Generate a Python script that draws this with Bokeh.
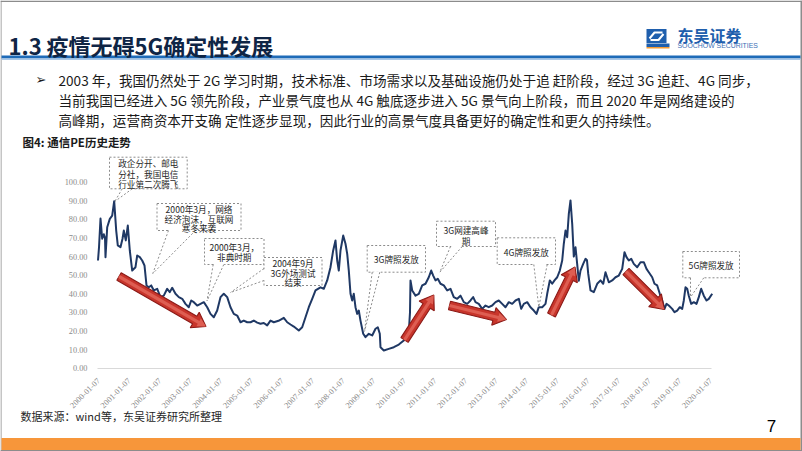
from math import pi, hypot
from bokeh.plotting import figure
from bokeh.models import Range1d, LinearAxis, FixedTicker, NumeralTickFormatter
from bokeh.core.properties import value
from bokeh.embed import file_html
from bokeh.resources import INLINE

# ---------------- data ----------------
pe_year = [
    2000.000, 2000.033, 2000.082, 2000.137, 2000.190, 2000.229, 2000.245, 2000.301, 2000.386, 2000.464,
    2000.529, 2000.595, 2000.647, 2000.735, 2000.801, 2000.843, 2000.908, 2000.974, 2001.039, 2001.118,
    2001.225, 2001.281, 2001.366, 2001.444, 2001.520, 2001.585, 2001.660, 2001.739, 2001.824, 2001.935,
    2002.042, 2002.150, 2002.261, 2002.346, 2002.425, 2002.533, 2002.641, 2002.752, 2002.859, 2002.967,
    2003.046, 2003.131, 2003.242, 2003.350, 2003.458, 2003.569, 2003.676, 2003.784, 2003.895, 2004.003,
    2004.111, 2004.222, 2004.330, 2004.438, 2004.549, 2004.657, 2004.765, 2004.876, 2004.984, 2005.092,
    2005.203, 2005.310, 2005.418, 2005.529, 2005.637, 2005.745, 2005.899, 2006.072, 2006.183, 2006.291,
    2006.399, 2006.562, 2006.673, 2006.781, 2006.889, 2007.000, 2007.108, 2007.271, 2007.379, 2007.490,
    2007.598, 2007.686, 2007.761, 2007.817, 2007.869, 2007.925, 2008.013, 2008.088, 2008.144, 2008.196,
    2008.252, 2008.307, 2008.359, 2008.415, 2008.471, 2008.523, 2008.578, 2008.667, 2008.742, 2008.850,
    2008.961, 2009.069, 2009.144, 2009.209, 2009.232, 2009.340, 2009.503, 2009.667, 2009.830, 2009.993,
    2010.157, 2010.196, 2010.212, 2010.268, 2010.376, 2010.484, 2010.595, 2010.703, 2010.810, 2010.889,
    2010.954, 2011.029, 2011.105, 2011.193, 2011.301, 2011.412, 2011.520, 2011.627, 2011.739, 2011.846,
    2011.954, 2012.065, 2012.173, 2012.261, 2012.337, 2012.444, 2012.556, 2012.663, 2012.771, 2012.882,
    2012.990, 2013.098, 2013.209, 2013.317, 2013.425, 2013.536, 2013.644, 2013.752, 2013.830, 2013.915,
    2014.026, 2014.134, 2014.242, 2014.330, 2014.405, 2014.516, 2014.624, 2014.680, 2014.765, 2014.843,
    2014.918, 2015.007, 2015.092, 2015.170, 2015.222, 2015.278, 2015.333, 2015.386, 2015.441, 2015.497,
    2015.549, 2015.605, 2015.660, 2015.712, 2015.768, 2015.856, 2015.931, 2015.980, 2016.020, 2016.095,
    2016.203, 2016.314, 2016.422, 2016.510, 2016.585, 2016.693, 2016.804, 2016.912, 2017.020, 2017.131,
    2017.206, 2017.271, 2017.346, 2017.425, 2017.510, 2017.621, 2017.729, 2017.837, 2017.925, 2018.000,
    2018.111, 2018.186, 2018.275, 2018.360, 2018.438, 2018.513, 2018.578, 2018.654, 2018.765, 2018.840,
    2018.928, 2019.013, 2019.092, 2019.144, 2019.199, 2019.255, 2019.307, 2019.386, 2019.471, 2019.559,
    2019.634, 2019.712, 2019.797, 2019.886, 2019.961, 2020.072,
]
pe_value = [
    57.9, 65.0, 80.5, 69.6, 72.0, 70.0, 59.7, 75.8, 80.3, 82.0,
    89.8, 74.0, 66.0, 65.0, 69.6, 74.0, 68.7, 76.7, 63.3, 52.5,
    54.3, 60.6, 59.7, 57.9, 55.2, 44.5, 43.5, 44.5, 41.8, 42.7,
    38.2, 39.0, 42.7, 40.9, 43.2, 40.0, 38.2, 37.3, 34.6, 32.8,
    36.4, 35.5, 33.7, 34.6, 35.5, 32.8, 29.2, 27.4, 31.0, 38.2,
    40.0, 38.2, 32.8, 29.2, 28.3, 24.7, 25.6, 24.7, 24.7, 25.6,
    24.5, 23.9, 24.3, 23.0, 25.6, 24.7, 25.5, 27.1, 24.7, 23.5,
    22.4, 20.3, 22.0, 27.4, 32.8, 37.3, 41.8, 43.5, 42.7, 47.2,
    54.3, 63.3, 68.7, 57.9, 52.5, 63.3, 71.3, 66.9, 61.5, 52.5,
    40.0, 36.4, 40.0, 32.8, 29.2, 31.0, 25.6, 18.5, 16.7, 18.5,
    17.6, 21.2, 22.0, 18.5, 11.3, 9.5, 10.4, 11.3, 12.7, 14.9,
    19.4, 30.0, 47.2, 41.8, 39.0, 40.0, 44.5, 45.4, 48.9, 52.5,
    49.8, 47.2, 48.1, 45.4, 44.5, 41.8, 42.7, 38.2, 37.3, 39.0,
    35.5, 34.6, 36.4, 38.2, 35.5, 34.6, 31.9, 33.7, 32.8, 33.7,
    35.5, 36.4, 34.6, 32.8, 35.5, 34.6, 36.4, 37.3, 31.9, 34.6,
    35.5, 32.8, 31.0, 29.2, 32.8, 32.8, 34.6, 40.0, 47.2, 45.4,
    47.2, 48.9, 52.5, 57.9, 66.9, 74.0, 70.4, 83.0, 90.2, 77.6,
    60.0, 65.0, 56.0, 47.0, 52.5, 56.1, 58.8, 58.0, 50.8, 41.8,
    40.9, 45.4, 47.2, 45.4, 51.6, 46.2, 47.2, 48.9, 49.8, 53.4,
    62.4, 59.7, 57.9, 58.8, 56.1, 54.3, 57.0, 57.0, 53.4, 51.6,
    48.9, 45.4, 44.5, 40.0, 36.4, 31.9, 34.6, 33.7, 31.9, 30.1,
    31.0, 32.8, 31.9, 36.4, 43.5, 42.7, 39.0, 34.6, 35.5, 34.6,
    38.2, 42.7, 39.0, 36.4, 37.3, 40.0,
]
x_tick_years = list(range(2000, 2021))
x_tick_labels = [f"{y}-01-07" for y in x_tick_years]
y_ticks = [0, 10, 20, 30, 40, 50, 60, 70, 80, 90, 100]

title_text = "1.3 疫情无碍5G确定性发展"
bullet_lines = [
    "2003 年，我国仍然处于 2G 学习时期，技术标准、市场需求以及基础设施仍处于追 赶阶段，经过 3G 追赶、4G 同步，",
    "当前我国已经进入 5G 领先阶段，产业景气度也从 4G 触底逐步进入 5G 景气向上阶段，而且 2020 年是网络建设的",
    "高峰期，运营商资本开支确 定性逐步显现，因此行业的高景气度具备更好的确定性和更久的持续性。",
]
fig_caption = "图4: 通信PE历史走势"
source_text = "数据来源：wind等，东吴证券研究所整理"

# ---------------- layout (pixel geometry of the slide) ----------------
W, H = 802, 451
X0_PX, PX_PER_YEAR = 97.5, 30.6     # x pixel of 2000.0, pixels per year
Y0_PX, PX_PER_PE = 367.7, 1.86      # y pixel of PE 0, pixels per PE unit


def X(px):
    return 2000 + (px - X0_PX) / PX_PER_YEAR


def Y(py):
    return (Y0_PX - py) / PX_PER_PE


CJK = value("Noto Sans CJK SC")
SANS = value("Liberation Sans")

p = figure(width=W, height=H, x_range=Range1d(X(0), X(W)), y_range=Range1d(Y(H), Y(0)),
           output_backend="svg", toolbar_location=None, x_axis_location=None, y_axis_location=None,
           min_border=0, outline_line_color=None, background_fill_color="white",
           border_fill_color="white")
p.grid.visible = False

# axes
x_ticks = [y + 6 / 365 for y in x_tick_years]
xaxis = LinearAxis(fixed_location=0, ticker=FixedTicker(ticks=x_ticks),
                   major_label_overrides={t: l for t, l in zip(x_ticks, x_tick_labels)},
                   bounds=(X(97), X(711)), axis_line_color="#D9D9D9", axis_line_width=1,
                   major_tick_line_color=None, minor_tick_line_color=None,
                   major_label_orientation=pi / 4, major_label_standoff=5,
                   major_label_text_font="Liberation Serif", major_label_text_font_size="8.3px",
                   major_label_text_color="#8a8a8a")
p.add_layout(xaxis, "below")
yaxis = LinearAxis(fixed_location=X(97), ticker=FixedTicker(ticks=y_ticks),
                   formatter=NumeralTickFormatter(format="0.00"), axis_line_color=None,
                   major_tick_line_color=None, minor_tick_line_color=None,
                   major_label_standoff=4, major_label_text_font="Liberation Serif",
                   major_label_text_font_size="8.3px", major_label_text_color="#8a8a8a")
p.add_layout(yaxis, "left")

# PE line
p.line(pe_year, pe_value, line_color="#1F3864", line_width=2, line_join="round")


# block arrows
def block_arrow(tail, tip, shaft=4.3, head=9.0, head_len=13.0):
    (tx, ty), (hx, hy) = tail, tip
    L = hypot(hx - tx, hy - ty)
    ux, uy = (hx - tx) / L, (hy - ty) / L
    nx, ny = -uy, ux
    bx, by = hx - ux * head_len, hy - uy * head_len
    pts = [(tx + nx * shaft, ty + ny * shaft), (bx + nx * shaft, by + ny * shaft),
           (bx + nx * head, by + ny * head), (hx, hy), (bx - nx * head, by - ny * head),
           (bx - nx * shaft, by - ny * shaft), (tx - nx * shaft, ty - ny * shaft)]
    return [X(a) for a, _ in pts], [Y(b) for _, b in pts]


arrows = [((118.5, 276), (205.5, 326)), ((404, 339.5), (433.3, 294.5)),
          ((449, 305), (506, 319)), ((551, 314.5), (574.5, 266.5)),
          ((625.5, 271), (663.8, 309))]
axs, ays, ixs, iys = [], [], [], []
for t, h in arrows:
    a, b = block_arrow(t, h)
    axs.append(a); ays.append(b)
    a, b = block_arrow(t, h, shaft=1.6, head=4.5, head_len=8.5)
    ixs.append(a); iys.append(b)
p.patches(axs, ays, fill_color="#C8352B", line_color="#8B1A17", line_width=1.1)
p.patches(ixs, iys, fill_color="#DE5E52", line_color=None)

# callouts: box (l, t, r, b), text lines (text, y), tail base points, tip
callouts = [
    ((109, 156.7, 186.7, 188.3), [("政企分开、邮电", 162.5), ("分社，我国电信", 173), ("行业第二次腾飞", 183.5)],
     [(121.7, 188.3), (131.7, 188.3)], (114.3, 201)),
    ((156.5, 203, 240.5, 230), [("2000年3月，网络", 208.5), ("经济泡沫，互联网", 218), ("寒冬来袭", 227.5)],
     [(168, 230), (195, 230)], (152.3, 273)),
    ((204, 238, 263.5, 264), [("2000年3月，", 246.5), ("非典时期", 256.5)],
     [(212.7, 264), (223.3, 264)], (206.5, 300.5)),
    ((263.5, 257, 321.5, 285), [("2004年9月", 262.5), ("3G外场测试", 272), ("结束", 281.5)],
     [(263.5, 268), (263.5, 280)], (230, 292)),
    ((366.7, 245, 425, 271.7), [("3G牌照发放", 258.5)],
     [(371.7, 271.7), (379.3, 271.7)], (364, 331)),
    ((436, 220.7, 495, 246), [("3G网建高峰", 229.5), ("期", 240)],
     [(450, 246), (461.7, 246)], (439.3, 271.7)),
    ((496.7, 237.3, 555, 264), [("4G牌照发放", 251)],
     [(533.3, 264), (546.7, 264)], (538.3, 306.7)),
    ((682.3, 251, 739, 277.3), [("5G牌照发放", 264.5)],
     [(690, 277.3), (703.3, 277.3)], (690, 296.7)),
]
DOT = dict(line_color="#8c8c8c", line_dash="2 2", line_width=1)
for (l, t, r, b), lines, base, tip in callouts:
    p.quad(left=X(l), right=X(r), top=Y(t), bottom=Y(b), fill_color="white", **DOT)
    (b1x, b1y), (b2x, b2y) = base
    cx, cy = (l + r) / 2, (t + b) / 2

    def inn(px, py):
        dx, dy = cx - px, cy - py
        d = hypot(dx, dy)
        return px + dx / d * 1.5, py + dy / d * 1.5
    i1, i2 = inn(b1x, b1y), inn(b2x, b2y)
    p.patch([X(i1[0]), X(tip[0]), X(i2[0])], [Y(i1[1]), Y(tip[1]), Y(i2[1])],
            fill_color="white", line_color=None)
    p.segment(x0=[X(b1x), X(b2x)], y0=[Y(b1y), Y(b2y)], x1=[X(tip[0])] * 2, y1=[Y(tip[1])] * 2, **DOT)
    p.text(x=[X(cx)] * len(lines), y=[Y(yy) for _, yy in lines], text=[s for s, _ in lines],
           text_font=CJK, text_font_size="8.6px", text_color="#262626",
           text_align="center", text_baseline="middle")

# ---------------- slide decoration ----------------
for l, t, r, b in [(0, 0, W, 1.5), (0, H - 1.5, W, H), (0, 0, 1, H), (W - 2, 0, W, H)]:
    p.quad(left=X(l), right=X(r), top=Y(t), bottom=Y(b), fill_color="#8c8c8c", line_color=None)
p.quad(left=X(1), right=X(W - 2), top=Y(55), bottom=Y(58), fill_color="#1E6BB8", line_color=None)
p.quad(left=X(1), right=X(W - 2), top=Y(58), bottom=Y(59.5), fill_color="#A9C8E8", line_color=None)
p.quad(left=X(1), right=X(W - 2), top=Y(437.5), bottom=Y(449.5), fill_color="#F7963A", line_color=None)

p.text(x=[X(8)], y=[Y(44)], text=[title_text], text_font=CJK, text_font_style="bold",
       text_font_size="22px", text_color="#0F2545", text_baseline="middle")

# logo
p.quad(left=X(646), right=X(666), top=Y(28.5), bottom=Y(42.5), fill_color="#1F5FAD", line_color=None)
p.multi_line(xs=[[X(649), X(654), X(662)], [X(650), X(658), X(663)]],
             ys=[[Y(38), Y(32), Y(32)], [Y(39.5), Y(39.5), Y(33.5)]], line_color="white", line_width=2)
p.quad(left=X(646), right=X(669), top=Y(43), bottom=Y(46.5), fill_color="#1F5FAD", line_color=None)
p.quad(left=X(646), right=X(669), top=Y(46.5), bottom=Y(48), fill_color="#F39A33", line_color=None)
p.text(x=[X(677)], y=[Y(34.5)], text=["东吴证券"], text_font=CJK, text_font_style="bold",
       text_font_size="16px", text_color="#1F5FAD", text_baseline="middle")
p.text(x=[X(677)], y=[Y(45)], text=["SOOCHOW SECURITIES"], text_font=SANS,
       text_font_size="6.9px", text_color="#3C6FB5", text_baseline="middle")

# bullet paragraph
p.text(x=[X(35)], y=[Y(79)], text=["➢"], text_font=value("DejaVu Sans"),
       text_font_size="13px", text_color="#1a1a1a", text_baseline="middle")
p.text(x=[X(58)] * 3, y=[Y(79), Y(99.5), Y(119)], text=bullet_lines, text_font=CJK,
       text_font_size="13.6px", text_color="#1a1a1a", text_baseline="middle")

p.text(x=[X(22)], y=[Y(141)], text=[fig_caption], text_font=CJK, text_font_style="bold",
       text_font_size="11.5px", text_color="#1a1a1a", text_baseline="middle")
p.text(x=[X(20)], y=[Y(415)], text=[source_text], text_font=CJK,
       text_font_size="11px", text_color="#262626", text_baseline="middle")

p.text(x=[X(771)], y=[Y(425)], text=["7"], text_font=SANS, text_font_size="17px",
       text_color="#000000", text_align="center", text_baseline="middle")

open("out.html", "w").write(file_html(p, INLINE))
